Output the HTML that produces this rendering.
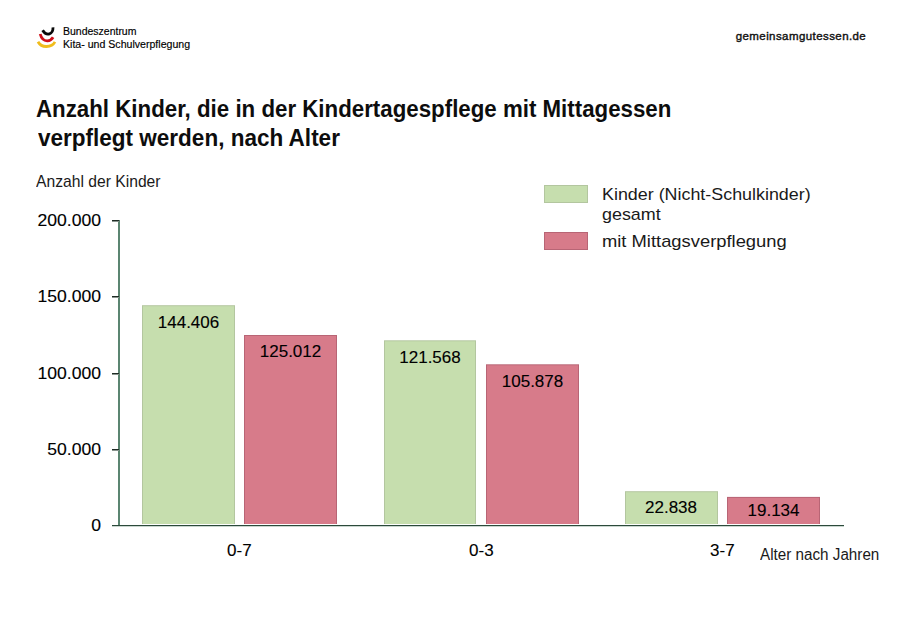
<!DOCTYPE html>
<html><head><meta charset="utf-8"><style>
html,body{margin:0;padding:0;background:#fff;}
body{width:900px;height:636px;position:relative;overflow:hidden;font-family:"Liberation Sans", sans-serif;}
.t{position:absolute;white-space:nowrap;}
</style></head><body>

<svg style="position:absolute;left:0;top:0" width="80" height="60" viewBox="0 0 80 60">
<path d="M42.6,30.2 C44.8,33.8 47.2,34.6 49.4,33.9 C52.4,32.9 53.1,30.6 53,27.4" fill="none" stroke="#0a0a0a" stroke-width="2.8" stroke-linecap="butt"/>
<path d="M40.2,34 C41.5,39 44.6,40.9 47.4,40.8 C50.1,40.6 52,39 53.1,37.2" fill="none" stroke="#d0101a" stroke-width="2.8" stroke-linecap="butt"/>
<path d="M38.0,41.7 C40.0,45.3 43.1,46.6 46.6,46.5 C50.6,46.4 53.6,44.4 55.0,41.9" fill="none" stroke="#f0bc1c" stroke-width="2.8" stroke-linecap="butt"/>
</svg>

<svg style="position:absolute;left:0;top:0" width="900" height="636"><rect x="142" y="305.2" width="93" height="218.8" fill="#b3c69f"/><rect x="143" y="306.2" width="91" height="217.8" fill="#c6deae"/><rect x="244" y="335.0" width="93" height="189.0" fill="#b86575"/><rect x="245" y="336.0" width="91" height="188.0" fill="#d77b8a"/><rect x="384" y="340.3" width="92" height="183.7" fill="#b3c69f"/><rect x="385" y="341.3" width="90" height="182.7" fill="#c6deae"/><rect x="486" y="364.3" width="93" height="159.7" fill="#b86575"/><rect x="487" y="365.3" width="91" height="158.7" fill="#d77b8a"/><rect x="625" y="491.2" width="93" height="32.80000000000001" fill="#b3c69f"/><rect x="626" y="492.2" width="91" height="31.80000000000001" fill="#c6deae"/><rect x="727" y="496.9" width="93" height="27.100000000000023" fill="#b86575"/><rect x="728" y="497.9" width="91" height="26.100000000000023" fill="#d77b8a"/></svg>

<div style="position:absolute;left:118px;top:220px;width:2px;height:305px;background:#5b8571;"></div>
<div style="position:absolute;left:112px;top:525px;width:732px;height:1px;background:#2c4a3b;"></div>
<div style="position:absolute;left:112px;top:526px;width:732px;height:1px;background:#c9d6cf;"></div>
<div style="position:absolute;left:112px;top:220px;width:7px;height:1px;background:#1f2b25;"></div>
<div style="position:absolute;left:112px;top:221px;width:7px;height:1px;background:#8a948f;"></div>
<div style="position:absolute;left:112px;top:296px;width:7px;height:1px;background:#1f2b25;"></div>
<div style="position:absolute;left:112px;top:297px;width:7px;height:1px;background:#8a948f;"></div>
<div style="position:absolute;left:112px;top:373px;width:7px;height:1px;background:#1f2b25;"></div>
<div style="position:absolute;left:112px;top:374px;width:7px;height:1px;background:#8a948f;"></div>
<div style="position:absolute;left:112px;top:449px;width:7px;height:1px;background:#1f2b25;"></div>
<div style="position:absolute;left:112px;top:450px;width:7px;height:1px;background:#8a948f;"></div>


<div style="position:absolute;left:544px;top:185px;width:44px;height:18px;background:#c6deae;box-shadow:inset 0 0 0 1px #b3c69f;"></div>
<div style="position:absolute;left:544px;top:232px;width:44px;height:18px;background:#d77b8a;box-shadow:inset 0 0 0 1px #b86575;"></div>

<div class="t" style="left:63.00px;transform-origin:0 0;top:27.33px;font-size:10.0px;line-height:10.0px;font-weight:normal;color:#000;transform:scaleX(1.0485);-webkit-text-stroke:0.15px #000;">Bundeszentrum</div><div class="t" style="left:63.00px;transform-origin:0 0;top:39.53px;font-size:10.0px;line-height:10.0px;font-weight:normal;color:#000;transform:scaleX(1.0583);-webkit-text-stroke:0.15px #000;">Kita- und Schulverpflegung</div><div class="t" style="left:-133.80px;width:1000px;text-align:right;transform-origin:100% 0;top:30.86px;font-size:11.5px;line-height:11.5px;font-weight:normal;color:#111;letter-spacing:0.42px;-webkit-text-stroke:0.4px #111;">gemeinsamgutessen.de</div><div class="t" style="left:36.00px;transform-origin:0 0;top:97.63px;font-size:23px;line-height:23px;font-weight:bold;color:#0d0d0d;transform:scaleX(0.9691);">Anzahl Kinder, die in der Kindertagespflege mit Mittagessen</div><div class="t" style="left:37.50px;transform-origin:0 0;top:127.43px;font-size:23px;line-height:23px;font-weight:bold;color:#0d0d0d;transform:scaleX(0.9788);">verpflegt werden, nach Alter</div><div class="t" style="left:35.50px;transform-origin:0 0;top:173.08px;font-size:16.2px;line-height:16.2px;font-weight:normal;color:#1a1a1a;transform:scaleX(0.9679);">Anzahl der Kinder</div><div class="t" style="left:-899.50px;width:1000px;text-align:right;transform-origin:100% 0;top:211.51px;font-size:17px;line-height:17px;font-weight:normal;color:#000;transform:scaleX(1.0330);-webkit-text-stroke:0.12px #000;">200.000</div><div class="t" style="left:-899.50px;width:1000px;text-align:right;transform-origin:100% 0;top:287.51px;font-size:17px;line-height:17px;font-weight:normal;color:#000;transform:scaleX(1.0330);-webkit-text-stroke:0.12px #000;">150.000</div><div class="t" style="left:-899.50px;width:1000px;text-align:right;transform-origin:100% 0;top:364.51px;font-size:17px;line-height:17px;font-weight:normal;color:#000;transform:scaleX(1.0330);-webkit-text-stroke:0.12px #000;">100.000</div><div class="t" style="left:-899.50px;width:1000px;text-align:right;transform-origin:100% 0;top:440.51px;font-size:17px;line-height:17px;font-weight:normal;color:#000;transform:scaleX(1.0330);-webkit-text-stroke:0.12px #000;">50.000</div><div class="t" style="left:-899.50px;width:1000px;text-align:right;transform-origin:100% 0;top:516.51px;font-size:17px;line-height:17px;font-weight:normal;color:#000;transform:scaleX(1.0330);-webkit-text-stroke:0.12px #000;">0</div><div class="t" style="left:-311.50px;width:1000px;text-align:center;transform-origin:50% 0;top:314.11px;font-size:17px;line-height:17px;font-weight:normal;color:#000;-webkit-text-stroke:0.12px #000;">144.406</div><div class="t" style="left:-209.50px;width:1000px;text-align:center;transform-origin:50% 0;top:343.31px;font-size:17px;line-height:17px;font-weight:normal;color:#000;-webkit-text-stroke:0.12px #000;">125.012</div><div class="t" style="left:-70.00px;width:1000px;text-align:center;transform-origin:50% 0;top:349.01px;font-size:17px;line-height:17px;font-weight:normal;color:#000;-webkit-text-stroke:0.12px #000;">121.568</div><div class="t" style="left:32.50px;width:1000px;text-align:center;transform-origin:50% 0;top:373.31px;font-size:17px;line-height:17px;font-weight:normal;color:#000;-webkit-text-stroke:0.12px #000;">105.878</div><div class="t" style="left:171.00px;width:1000px;text-align:center;transform-origin:50% 0;top:499.31px;font-size:17px;line-height:17px;font-weight:normal;color:#000;-webkit-text-stroke:0.12px #000;">22.838</div><div class="t" style="left:273.50px;width:1000px;text-align:center;transform-origin:50% 0;top:502.21px;font-size:17px;line-height:17px;font-weight:normal;color:#000;-webkit-text-stroke:0.12px #000;">19.134</div><div class="t" style="left:602.00px;transform-origin:0 0;top:185.51px;font-size:17px;line-height:17px;font-weight:normal;color:#1a1a1a;transform:scaleX(1.0515);">Kinder (Nicht-Schulkinder)</div><div class="t" style="left:602.00px;transform-origin:0 0;top:206.41px;font-size:17px;line-height:17px;font-weight:normal;color:#1a1a1a;transform:scaleX(1.0534);">gesamt</div><div class="t" style="left:602.00px;transform-origin:0 0;top:232.91px;font-size:17px;line-height:17px;font-weight:normal;color:#1a1a1a;transform:scaleX(1.0801);">mit Mittagsverpflegung</div><div class="t" style="left:-260.70px;width:1000px;text-align:center;transform-origin:50% 0;top:542.31px;font-size:17px;line-height:17px;font-weight:normal;color:#000;-webkit-text-stroke:0.12px #000;">0-7</div><div class="t" style="left:-18.70px;width:1000px;text-align:center;transform-origin:50% 0;top:542.31px;font-size:17px;line-height:17px;font-weight:normal;color:#000;-webkit-text-stroke:0.12px #000;">0-3</div><div class="t" style="left:222.40px;width:1000px;text-align:center;transform-origin:50% 0;top:542.31px;font-size:17px;line-height:17px;font-weight:normal;color:#000;-webkit-text-stroke:0.12px #000;">3-7</div><div class="t" style="left:760.00px;transform-origin:0 0;top:546.62px;font-size:15.8px;line-height:15.8px;font-weight:normal;color:#1a1a1a;transform:scaleX(0.9638);">Alter nach Jahren</div>
</body></html>
